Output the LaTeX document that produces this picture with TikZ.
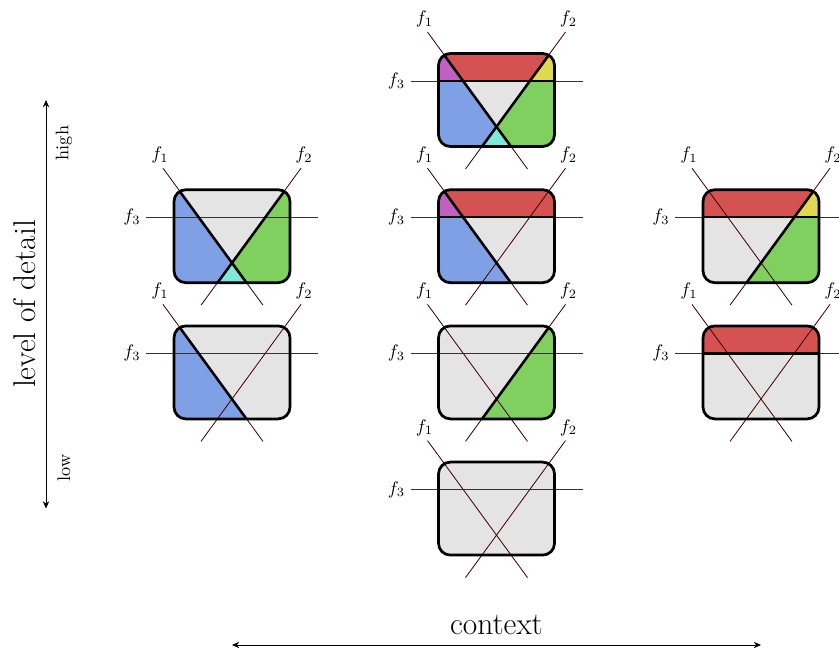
\documentclass[tikz,border=0pt]{standalone}
\usepackage{amsmath}
\usetikzlibrary{arrows.meta}

\definecolor{cgrey}{RGB}{228,228,228}
\definecolor{cblue}{RGB}{127,160,228}
\definecolor{cgreen}{RGB}{128,208,96}
\definecolor{ccyan}{RGB}{128,232,216}
\definecolor{cred}{RGB}{212,82,82}
\definecolor{cmagenta}{RGB}{192,96,192}
\definecolor{cyellow}{RGB}{224,216,80}

\begin{document}
\begin{tikzpicture}[x=0.55pt,y=-0.55pt,
  cellbox/.style={draw=black,line width=1.5pt,rounded corners=6.5pt},
  split/.style={black,line width=1.4pt},
  fline/.style={red!25!black,line width=0.45pt},
  hline/.style={black!80,line width=0.5pt},
  axis/.style={black,line width=0.5pt,{Stealth[length=4pt,width=3.5pt]}-{Stealth[length=4pt,width=3.5pt]}}]
\useasboundingbox (0,0) rectangle (839,648);
% regions of one cell, local units
\def\boxpath{(-58,-46.5) [rounded corners=6.5pt] rectangle (58,46.5)}
\def\leftone{(-80,-60) -- (-63.3,-60) -- (24.3,60) -- (-80,60) -- cycle}
\def\righttwo{(80,-60) -- (63.3,-60) -- (-24.3,60) -- (80,60) -- cycle}
\def\below{(0,26.7) -- (24.3,60) -- (-24.3,60) -- cycle}
\def\strip{(-80,-60) rectangle (80,-19)}
\def\stripleft{(-80,-60) -- (-63.3,-60) -- (-33.4,-19) -- (-80,-19) -- cycle}
\def\stripright{(80,-60) -- (63.3,-60) -- (33.4,-19) -- (80,-19) -- cycle}

% column/row/f1/f2/f3
\foreach \c/\r/\sa/\sb/\sc [count=\k] in {2/0/1/1/1, 1/1/1/1/0, 2/1/1/0/1, 3/1/0/1/1,
    1/2/1/0/0, 2/2/0/1/0, 3/2/0/0/1, 2/3/0/0/0}{
  \begin{scope}[shift={(\c*264.5-32.5,\r*136.2+100)}]
    \begin{scope}
      \clip \boxpath;
      \fill[cgrey] \boxpath;
      \ifnum\sa=1 \fill[cblue] \leftone; \fi
      \ifnum\sb=1 \fill[cgreen] \righttwo; \fi
      \ifnum\sa\sb=11 \fill[ccyan] \below; \fi
      \ifnum\sc=1 \fill[cred] \strip; \fi
      \ifnum\sa\sc=11 \fill[cmagenta] \stripleft; \fi
      \ifnum\sb\sc=11 \fill[cyellow] \stripright; \fi
    \end{scope}
    \coordinate (a1) at (-69,-68); \coordinate (b1) at (31,69);
    \coordinate (a2) at (69,-68);  \coordinate (b2) at (-31,69);
    \coordinate (a3) at (-86,-19); \coordinate (b3) at (86,-19);
    \draw[fline] (a1) -- (b1);
    \draw[fline] (a2) -- (b2);
    \draw[hline] (a3) -- (b3);
    \node (f1-\k) at (-72,-81) {$f_1$};
    \node (f2-\k) at (72,-81) {$f_2$};
    \node (f3-\k) at (-100,-19) {$f_3$};
    \begin{scope}
      \clip \boxpath;
      \ifnum\sa=1 \draw[split] (-63.3,-60) -- (24.3,60); \fi
      \ifnum\sb=1 \draw[split] (63.3,-60) -- (-24.3,60); \fi
      \ifnum\sc=1 \draw[split] (-80,-19) -- (80,-19); \fi
    \end{scope}
    \draw[cellbox] (-58,-46.5) rectangle (58,46.5);
  \end{scope}
}

% level of detail
\coordinate (hi) at (46,100);
\coordinate (lo) at (46,508.5);
\draw[axis] (hi) -- (lo);
\node[rotate=90] (high) at (64,143) {high};
\node[rotate=90] (low) at (64,468) {low};
\node[rotate=90,font=\LARGE] (lod) at (25,304) {level of detail};

% context
\coordinate (cl) at (232,645);
\coordinate (cr) at (761,645);
\draw[axis] (cl) -- (cr);
\node[font=\LARGE] (ctx) at (496.5,625) {context};
\end{tikzpicture}
\end{document}
